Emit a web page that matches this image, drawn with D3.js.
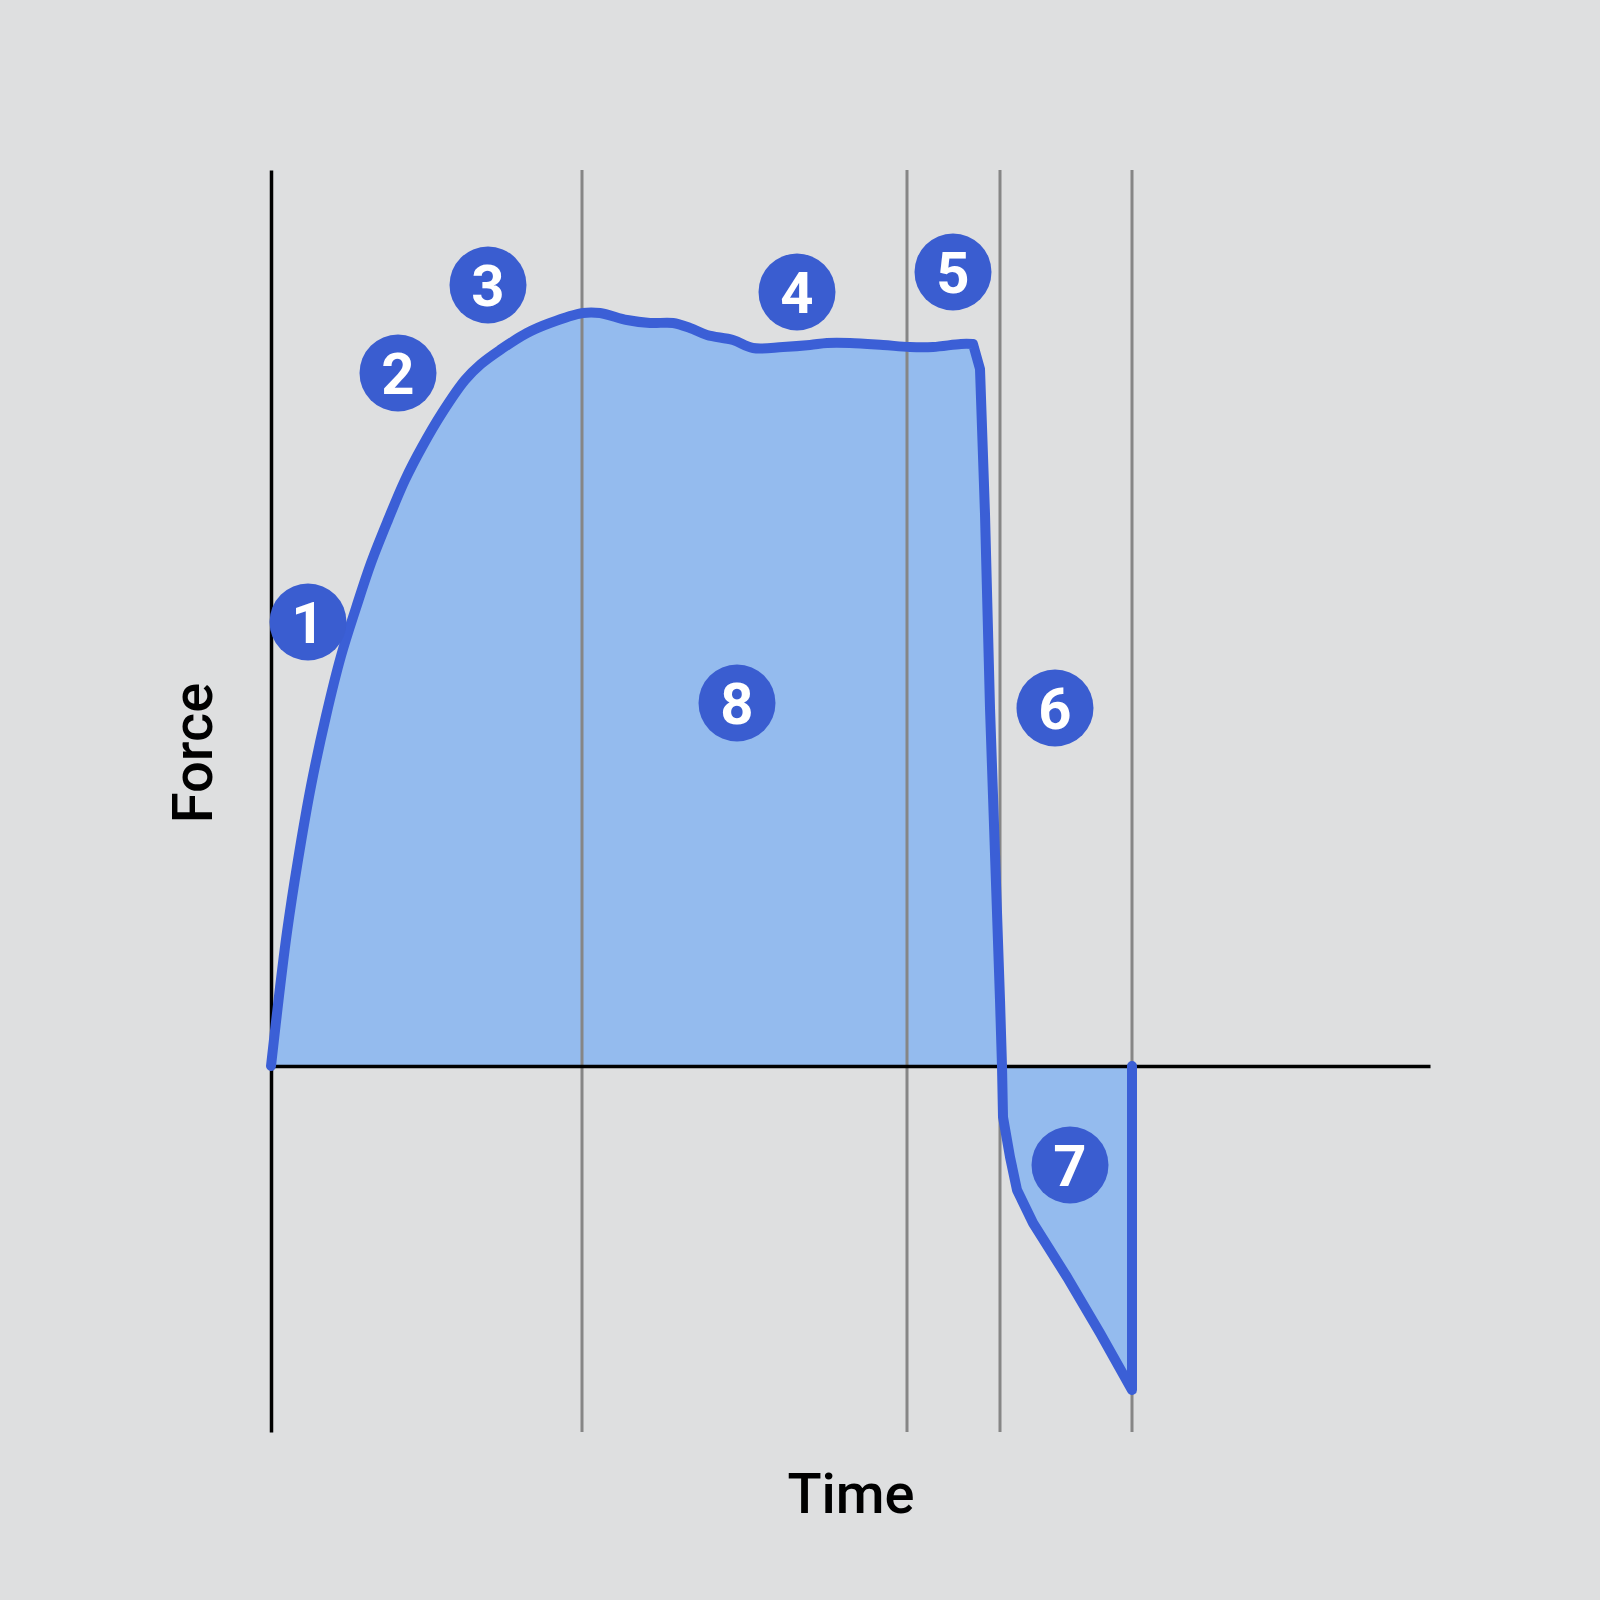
<!DOCTYPE html>
<html>
<head>
<meta charset="utf-8">
<script src="https://cdn.jsdelivr.net/npm/d3@7"></script>
<style>
  html, body { margin: 0; padding: 0; background: #dedfe0; }
  svg { display: block; }
</style>
</head>
<body>
<svg id="chart"></svg>
<script>
// force-time curve (arbitrary units)
const time  = [0, 8, 16, 27, 40, 55, 70, 85, 100, 117, 134, 151, 171, 194, 210, 229, 256, 279, 312, 329,
               356, 379, 402, 419, 436, 462, 482, 512, 539, 556, 579, 612, 639, 662, 690, 702,
               709, 714, 719, 724, 729, 731, 732, 739, 746, 762, 796, 829, 861, 861];
const force = [0, 70, 134, 206, 280, 350, 410, 458, 503, 546, 586, 619, 653, 686, 702, 716, 733, 743, 753, 753,
               746, 743, 743, 738, 731, 726, 718, 719, 721, 723, 723, 721, 719, 719, 722, 722,
               697, 552, 358, 212, 66, 0, -51, -91, -124, -157, -211, -267, -324, 0];

// where the smooth push ends and the sharp release begins
const releaseTime = 702;

// phase boundaries (vertical guides)
const phaseTimes = [311, 636, 729, 861];

// numbered markers, placed in data units
const markerNums  = [1, 2, 3, 4, 5, 6, 7, 8];
const markerTime  = [37, 127, 217, 526, 682, 784, 799, 466];
const markerForce = [444, 693, 781, 774, 794, 358, -99, 363];

const width = 1600;
const height = 1600;

const svg = d3.select('#chart')
  .attr('width', width)
  .attr('height', height);

svg.append('rect')
  .attr('width', width)
  .attr('height', height)
  .attr('fill', '#dedfe0');

const x = d3.scaleLinear().domain([0, 1159]).range([271, 1430]);
const y = d3.scaleLinear().domain([-366, 896]).range([1432, 170]);

const points = time.map((t, i) => ({ t, f: force[i] }));
const split = time.indexOf(releaseTime);

// smooth part, then straight segments for the drop
const smoothLine = d3.line()
  .curve(d3.curveCatmullRom.alpha(0.5))
  .x(d => x(d.t))
  .y(d => y(d.f));
const straightLine = d3.line()
  .x(d => x(d.t))
  .y(d => y(d.f));

const pathD = smoothLine(points.slice(0, split + 1)) +
  straightLine(points.slice(split)).replace(/^M/, 'L');

// filled area (path starts and ends on the zero line, so closing it works)
svg.append('path')
  .attr('d', pathD + 'Z')
  .attr('fill', '#94bbee');

// vertical guides
svg.selectAll('.guide')
  .data(phaseTimes)
  .enter().append('line')
  .attr('class', 'guide')
  .attr('x1', d => x(d))
  .attr('x2', d => x(d))
  .attr('y1', y.range()[1])
  .attr('y2', y.range()[0])
  .attr('stroke', '#868686')
  .attr('stroke-width', 3);

// axes (lines only, no ticks)
const xAxis = svg.append('g')
  .attr('transform', `translate(0,${y(0)})`)
  .call(d3.axisBottom(x).tickValues([]).tickSizeOuter(0));
const yAxis = svg.append('g')
  .attr('transform', `translate(${x(0)},0)`)
  .call(d3.axisLeft(y).tickValues([]).tickSizeOuter(0));
[xAxis, yAxis].forEach(g => g.select('.domain')
  .attr('stroke', '#000')
  .attr('stroke-width', 3.5));

// the curve outline
svg.append('path')
  .attr('d', pathD)
  .attr('fill', 'none')
  .attr('stroke', '#3b5fd6')
  .attr('stroke-width', 10)
  .attr('stroke-linejoin', 'round')
  .attr('stroke-linecap', 'round');

// numbered markers
const markers = svg.selectAll('.marker')
  .data(markerNums.map((n, i) => ({ n, t: markerTime[i], f: markerForce[i] })))
  .enter().append('g')
  .attr('class', 'marker')
  .attr('transform', d => `translate(${x(d.t)},${y(d.f)})`);

markers.append('circle')
  .attr('r', 38.5)
  .attr('fill', '#3a5dd0');

markers.append('text')
  .attr('text-anchor', 'middle')
  .attr('dy', '0.355em')
  .attr('fill', '#fff')
  .style('font-family', 'Roboto, Inter, sans-serif')
  .style('font-weight', 700)
  .style('font-size', '58px')
  .text(d => d.n);

// axis titles
svg.append('text')
  .attr('x', 851)
  .attr('y', 1513)
  .attr('text-anchor', 'middle')
  .style('font-family', 'Roboto, Inter, sans-serif')
  .style('font-weight', 500)
  .style('font-size', '56px')
  .attr('fill', '#000')
  .text('Time');

svg.append('text')
  .attr('transform', 'translate(212,753) rotate(-90)')
  .attr('text-anchor', 'middle')
  .style('font-family', 'Roboto, Inter, sans-serif')
  .style('font-weight', 500)
  .style('font-size', '56px')
  .attr('fill', '#000')
  .text('Force');
</script>
</body>
</html>
